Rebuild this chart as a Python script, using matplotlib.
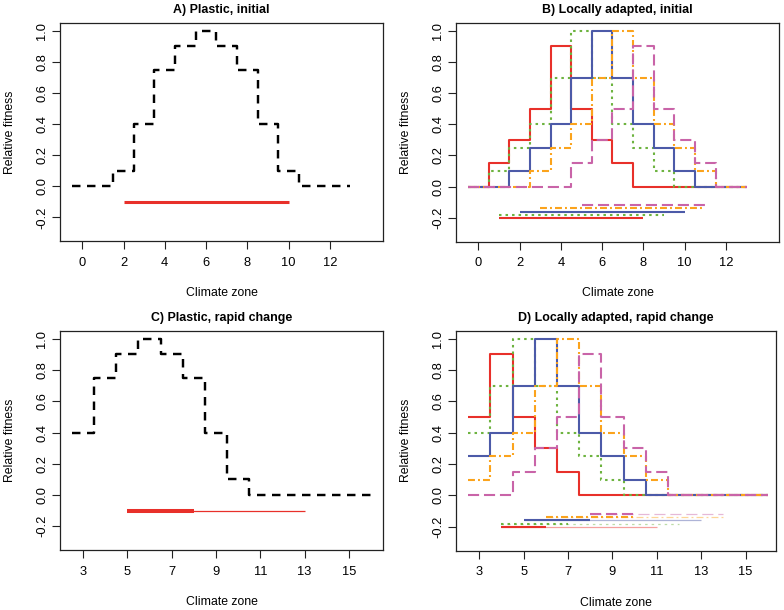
import matplotlib
matplotlib.use('Agg')
import matplotlib.pyplot as plt
import numpy as np

plt.rcParams['font.family'] = ['Liberation Sans', 'DejaVu Sans']
plt.rcParams['lines.scale_dashes'] = False

### Data
# panels A/B: zones 0..13, panels C/D: zones 3..16
zones_init = np.arange(0, 14)
zones_rapid = np.arange(3, 17)
end_init = 13
end_rapid = 16

plastic_init = [0, 0, 0.1, 0.4, 0.75, 0.9, 1.0, 0.9, 0.75, 0.4, 0.1, 0, 0, 0]
plastic_rapid = [0.4, 0.75, 0.9, 1.0, 0.9, 0.75, 0.4, 0.1, 0, 0, 0, 0, 0, 0]
plastic_range_init = (2, 10)
plastic_range_rapid_occupied = (5, 8)
plastic_range_rapid_potential = (5, 13)

ecotype_names = ['zone4', 'zone5', 'zone6', 'zone7', 'zone8']
local_init = [
    [0, 0.15, 0.3, 0.5, 0.9, 0.5, 0.3, 0.15, 0, 0, 0, 0, 0, 0],
    [0, 0.1, 0.25, 0.4, 0.7, 1.0, 0.7, 0.4, 0.25, 0.1, 0, 0, 0, 0],
    [0, 0, 0.1, 0.25, 0.4, 0.7, 1.0, 0.7, 0.4, 0.25, 0.1, 0, 0, 0],
    [0, 0, 0, 0.1, 0.25, 0.4, 0.7, 1.0, 0.7, 0.4, 0.25, 0.1, 0, 0],
    [0, 0, 0, 0, 0, 0.15, 0.3, 0.5, 0.9, 0.5, 0.3, 0.15, 0, 0],
]
local_rapid = [
    [0.5, 0.9, 0.5, 0.3, 0.15, 0, 0, 0, 0, 0, 0, 0, 0, 0],
    [0.4, 0.7, 1.0, 0.7, 0.4, 0.25, 0.1, 0, 0, 0, 0, 0, 0, 0],
    [0.25, 0.4, 0.7, 1.0, 0.7, 0.4, 0.25, 0.1, 0, 0, 0, 0, 0, 0],
    [0.1, 0.25, 0.4, 0.7, 1.0, 0.7, 0.4, 0.25, 0.1, 0, 0, 0, 0, 0],
    [0, 0, 0.15, 0.3, 0.5, 0.9, 0.5, 0.3, 0.15, 0, 0, 0, 0, 0],
]
range_levels = [-0.2, -0.18, -0.16, -0.14, -0.12]
range_init_start = [1, 1, 2, 3, 5]
range_init_end = [8, 9, 10, 11, 11]
range_rapid_start = [4, 4, 5, 6, 8]
range_rapid_occupied_end = [6, 7, 8, 10, 10]
range_rapid_potential_end = [11, 12, 13, 14, 14]

### Styles
COLORS = ['#E8302A', '#6DB33F', '#4C5AA8', '#FBA31C', '#C964A8']
DASHES = [None, (1.8, 2.9), None, (5.0, 2.2, 1.4, 2.2), (8.0, 3.5)]
FS_TICK = 9.3
FS_LAB = 8.8
W, H = 784.0, 610.0


def make_axes(fig, left, top, right, bottom, xlim, xticks, title):
    ax = fig.add_axes([left / W, 1 - bottom / H, (right - left) / W,
                       (bottom - top) / H])
    ax.set_xlim(*xlim)
    ax.set_ylim(-0.352, 1.052)
    ax.set_xticks(xticks)
    ax.set_yticks(np.arange(-0.2, 1.01, 0.2))
    ax.set_yticklabels(['%.1f' % v for v in np.arange(-0.2, 1.01, 0.2)])
    ax.tick_params(direction='out', length=5.5, width=0.8, color='#222222',
                   labelsize=FS_TICK, pad=6)
    ax.tick_params(axis='y', labelrotation=90, pad=3)
    for lab in ax.get_yticklabels():
        lab.set_va('center')
    for sp in ax.spines.values():
        sp.set_linewidth(0.9)
        sp.set_color('#222222')
    ax.set_title(title, fontsize=8.9, fontweight='bold', pad=7)
    ax.set_xlabel('Climate zone', fontsize=FS_LAB, va='center')
    ax.set_ylabel('Relative fitness', fontsize=FS_LAB, va='center')
    ax.xaxis.set_label_coords(0.5, -52.0 / (bottom - top))
    ax.yaxis.set_label_coords(-50.0 / (right - left), 0.5)
    return ax


def step_line(ax, zones, values, end, color, lw, dashes=None, zorder=2):
    x = np.append(zones - 0.5, end)
    y = np.append(values, values[-1])
    line, = ax.plot(x, y, drawstyle='steps-post', color=color, lw=lw,
                    solid_capstyle='butt', dash_capstyle='butt', zorder=zorder)
    if dashes is not None:
        line.set_dashes(dashes)
    return line


def hline(ax, x0, x1, y, color, lw, dashes=None, alpha=1.0):
    line, = ax.plot([x0, x1], [y, y], color=color, lw=lw, alpha=alpha,
                    solid_capstyle='butt', dash_capstyle='butt')
    if dashes is not None:
        line.set_dashes(dashes)
    return line


fig = plt.figure(figsize=(7.84, 6.10), dpi=100)

# A) plastic, initial
ax = make_axes(fig, 60, 22.7, 383, 241, (-1.08, 14.58), range(0, 13, 2),
               'A) Plastic, initial')
step_line(ax, zones_init, plastic_init, end_init, 'black', 1.75, (6.1, 4.7))
hline(ax, plastic_range_init[0], plastic_range_init[1], -0.1, COLORS[0], 2.2)

# B) locally adapted, initial
ax = make_axes(fig, 456, 22.7, 779.3, 241.5, (-1.08, 14.58), range(0, 13, 2),
               'B) Locally adapted, initial')
for i in range(len(ecotype_names)):
    step_line(ax, zones_init, local_init[i], end_init, COLORS[i], 1.5,
              DASHES[i])
for i in range(len(ecotype_names)):
    hline(ax, range_init_start[i], range_init_end[i], range_levels[i],
          COLORS[i], 1.5, DASHES[i])

# C) plastic, rapid change
ax = make_axes(fig, 60, 330.7, 383, 550, (1.96, 16.54), range(3, 16, 2),
               'C) Plastic, rapid change')
step_line(ax, zones_rapid, plastic_rapid, end_rapid, 'black', 1.75, (6.1, 4.7))
hline(ax, plastic_range_rapid_potential[0], plastic_range_rapid_potential[1],
      -0.1, COLORS[0], 0.9)
hline(ax, plastic_range_rapid_occupied[0], plastic_range_rapid_occupied[1],
      -0.1, COLORS[0], 2.9)

# D) locally adapted, rapid change
ax = make_axes(fig, 456, 330.7, 776, 550.5, (1.95, 16.37), range(3, 16, 2),
               'D) Locally adapted, rapid change')
for i in range(len(ecotype_names)):
    step_line(ax, zones_rapid, local_rapid[i], end_rapid, COLORS[i], 1.5,
              DASHES[i])
for i in range(len(ecotype_names)):
    hline(ax, range_rapid_start[i], range_rapid_potential_end[i],
          range_levels[i], COLORS[i], 0.9, DASHES[i], alpha=0.45)
    hline(ax, range_rapid_start[i], range_rapid_occupied_end[i],
          range_levels[i], COLORS[i], 1.5, DASHES[i])

fig.savefig('out.png', dpi=100)
